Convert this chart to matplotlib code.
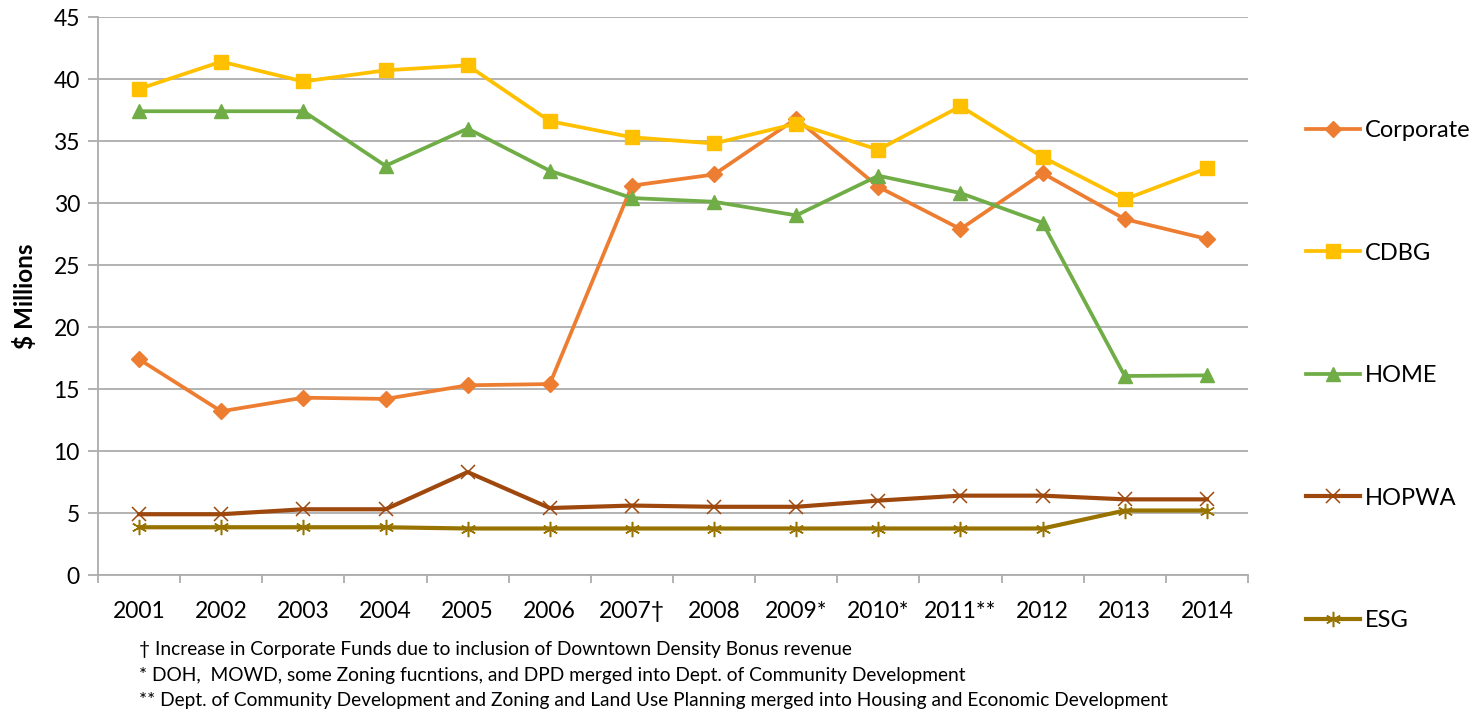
import matplotlib

matplotlib.use("Agg")
import matplotlib.pyplot as plt
from matplotlib.ticker import FixedLocator, NullFormatter

# Values ($ millions)
YEARS = ["2001", "2002", "2003", "2004", "2005", "2006", "2007\u2020", "2008",
         "2009*", "2010*", "2011**", "2012", "2013", "2014"]
CORPORATE = [17.4, 13.2, 14.3, 14.2, 15.3, 15.4, 31.4, 32.3, 36.8, 31.3, 27.9, 32.4, 28.7, 27.1]
CDBG = [39.2, 41.4, 39.8, 40.7, 41.1, 36.6, 35.3, 34.8, 36.4, 34.3, 37.8, 33.7, 30.3, 32.8]
HOME = [37.4, 37.4, 37.4, 33.0, 36.0, 32.6, 30.4, 30.1, 29.0, 32.2, 30.8, 28.4, 16.05, 16.1]
HOPWA = [4.9, 4.9, 5.3, 5.3, 8.3, 5.4, 5.6, 5.5, 5.5, 6.0, 6.4, 6.4, 6.1, 6.1]
ESG = [3.85, 3.85, 3.85, 3.85, 3.75, 3.75, 3.75, 3.75, 3.75, 3.75, 3.75, 3.75, 5.2, 5.2]

FOOTNOTES = [
    "\u2020 Increase in Corporate Funds due to inclusion of Downtown Density Bonus revenue",
    "* DOH,  MOWD, some Zoning fucntions, and DPD merged into Dept. of Community Development",
    "** Dept. of Community Development and Zoning and Land Use Planning merged into Housing and Economic Development",
]

ORANGE = "#ED7D31"
GOLD = "#FFC000"
GREEN = "#70AD47"
BROWN = "#9E480E"
OLIVE = "#997300"
GRID = "#ADADAD"

plt.rcParams.update({
    "font.family": ["Lato", "DejaVu Sans"],
    "font.size": 15,
})

fig = plt.figure(figsize=(14.82, 7.12), dpi=100)
ax = fig.add_axes([98 / 1482, 1 - 575 / 712, (1248 - 98) / 1482, (575 - 17) / 712])

x = list(range(len(YEARS)))
lw = 2.7
ax.plot(x, CORPORATE, color=ORANGE, lw=lw, marker="D", ms=8, label="Corporate")
ax.plot(x, CDBG, color=GOLD, lw=lw, marker="s", ms=10, label="CDBG")
ax.plot(x, HOME, color=GREEN, lw=lw, marker="^", ms=10, label="HOME")
ax.plot(x, HOPWA, color=BROWN, lw=3, marker="x", ms=10, mew=1.1, label="HOPWA")
ax.plot(x, ESG, color=OLIVE, lw=3, marker=(6, 2, 0), ms=11, mew=1.1, label="ESG")

ax.set_xlim(-0.5, len(YEARS) - 0.5)
ax.set_ylim(0, 45)
ax.set_yticks(range(0, 46, 5))
ax.yaxis.grid(True, color=GRID, lw=1.3)
ax.set_axisbelow(True)

ax.set_xticks(x)
ax.set_xticklabels(YEARS, fontsize=16.5)
ax.xaxis.set_minor_locator(FixedLocator([i - 0.5 for i in range(len(YEARS) + 1)]))
ax.xaxis.set_minor_formatter(NullFormatter())
ax.tick_params(axis="x", which="major", length=0, pad=19)
ax.tick_params(axis="x", which="minor", length=6, color=GRID, width=1.3)
ax.tick_params(axis="y", length=7, color=GRID, width=1.3, labelsize=16.5, pad=6)

for side in ("top", "right"):
    ax.spines[side].set_visible(False)
for side in ("left", "bottom"):
    ax.spines[side].set_color(GRID)
    ax.spines[side].set_linewidth(1.3)

ax.set_ylabel("$ Millions", fontsize=17.5, fontweight="bold", labelpad=12)

leg = ax.legend(loc="upper left", bbox_to_anchor=(1306 / 1482, 1 - 120 / 712),
                bbox_transform=fig.transFigure, frameon=False, fontsize=17,
                handlelength=2.3, handletextpad=0.2, labelspacing=4.3,
                borderpad=0, borderaxespad=0)

for i, note in enumerate(FOOTNOTES):
    fig.text(139 / 1482, 1 - (649.5 + 25.7 * i) / 712, note, fontsize=13.8,
             ha="left", va="center")

fig.savefig("out.png", dpi=100)
